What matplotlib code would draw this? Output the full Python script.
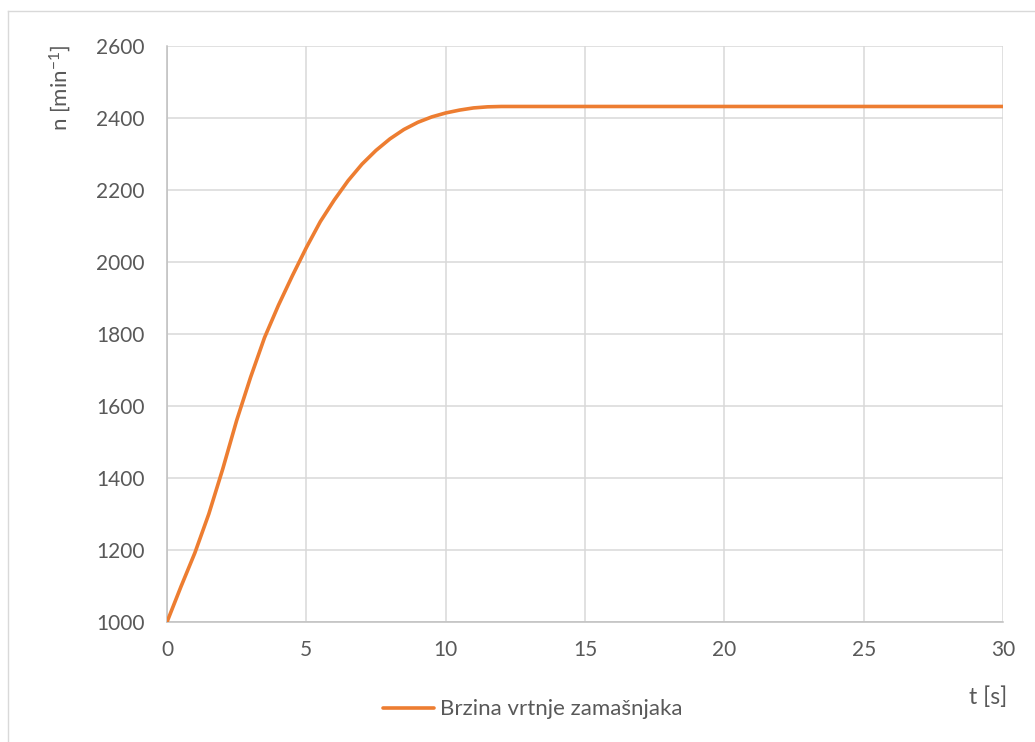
import matplotlib
matplotlib.use("Agg")
import matplotlib.pyplot as plt
from matplotlib.lines import Line2D

plt.rcParams['font.family'] = ['Lato', 'DejaVu Sans']
plt.rcParams['mathtext.fontset'] = 'custom'
plt.rcParams['mathtext.rm'] = 'Lato'
plt.rcParams['mathtext.it'] = 'Lato'

t_values = [0, 0.5, 1, 1.5, 2, 2.5, 3, 3.5, 4, 4.5, 5, 5.5, 6, 6.5, 7, 7.5, 8,
            8.5, 9, 9.5, 10, 10.5, 11, 11.5, 12, 15, 20, 25, 30]
n_values = [1000, 1098, 1192, 1300, 1425, 1560, 1680, 1790, 1880, 1962, 2040,
            2112, 2172, 2226, 2272, 2310, 2342, 2368, 2388, 2403, 2414, 2422,
            2428, 2431, 2432, 2432, 2432, 2432, 2432]
x_ticks = [0, 5, 10, 15, 20, 25, 30]
y_ticks = [1000, 1200, 1400, 1600, 1800, 2000, 2200, 2400, 2600]
series_name = "Brzina vrtnje zamašnjaka"

W, H = 1035, 742
fig = plt.figure(figsize=(W / 100, H / 100), dpi=100)
ax = fig.add_axes([167 / W, 1 - 622 / H, (1003 - 167) / W, (622 - 46) / H])

line_color = '#ED7D31'
text_color = '#595959'
grid_color = '#D9D9D9'

ax.plot(t_values, n_values, color=line_color, linewidth=2.6,
        solid_capstyle='round', solid_joinstyle='round', zorder=3)

ax.set_xlim(0, 30)
ax.set_ylim(1000, 2600)
ax.set_xticks(x_ticks)
ax.set_yticks(y_ticks)
ax.grid(True, color=grid_color, linewidth=1.1)
ax.set_axisbelow(True)
for s in ['top', 'right']:
    ax.spines[s].set_visible(False)
for s in ['left', 'bottom']:
    ax.spines[s].set_color('#BFBFBF')
    ax.spines[s].set_linewidth(1.1)
ax.tick_params(axis='both', length=0, labelsize=15, labelcolor=text_color)
ax.tick_params(axis='y', pad=16)
ax.tick_params(axis='x', pad=13)

fig.text(60 / W, 1 - 88 / H, r"n [min$^{\mathrm{-1}}$]", rotation=90,
         ha='center', va='center', fontsize=16, color=text_color)
fig.text(988 / W, 1 - 697 / H, "t [s]", ha='center', va='center',
         fontsize=16.5, color=text_color)

fig.add_artist(Line2D([383 / W, 434 / W], [1 - 708 / H, 1 - 708 / H],
                      color=line_color, linewidth=2.6, solid_capstyle='round',
                      transform=fig.transFigure))
fig.text(440 / W, 1 - 709 / H, series_name, ha='left', va='center',
         fontsize=16, color=text_color)

border = '#D9D9D9'
fig.add_artist(Line2D([7.5 / W, 1.0], [1 - 10.5 / H, 1 - 10.5 / H],
                      color=border, linewidth=1.0, transform=fig.transFigure))
fig.add_artist(Line2D([7.5 / W, 7.5 / W], [0.0, 1 - 10.5 / H],
                      color=border, linewidth=1.0, transform=fig.transFigure))

fig.savefig("out.png", dpi=100, facecolor='white')
